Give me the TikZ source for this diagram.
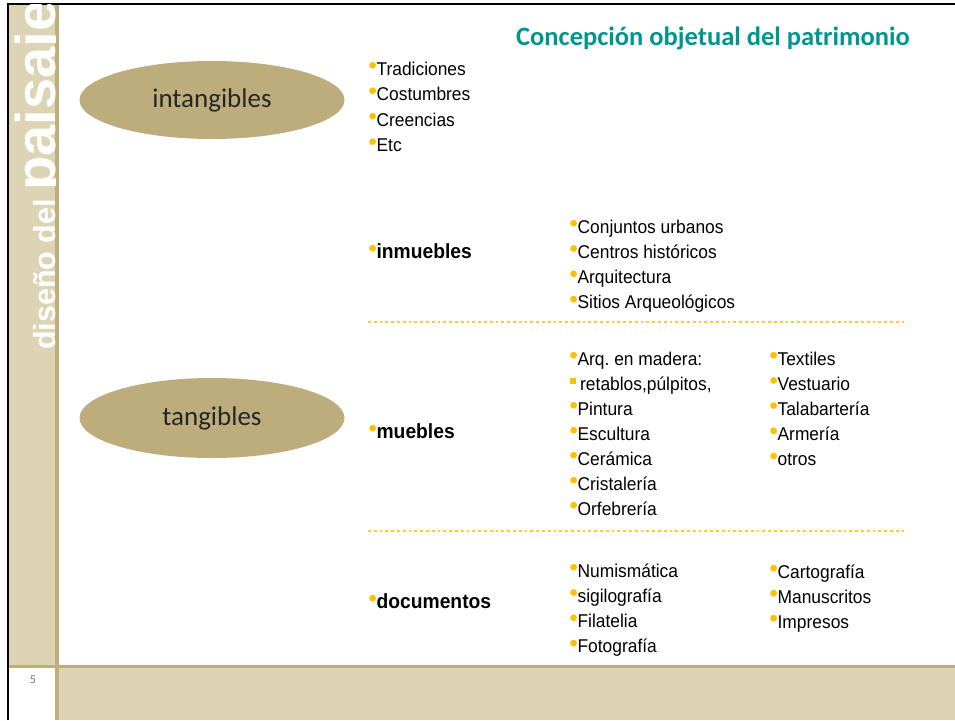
\documentclass[tikz,border=0pt]{standalone}
\usepackage{fontspec}
\setmainfont{Liberation Sans}
\newfontfamily\itemfont[FakeStretch=0.94]{Liberation Sans}
\newfontfamily\calfont{Carlito}
\usetikzlibrary{positioning, shapes.geometric}

\definecolor{sidebeige}{RGB}{221,212,181}
\definecolor{stripetan}{RGB}{192,174,122}
\definecolor{ovalfill}{RGB}{189,172,124}
\definecolor{bulyellow}{RGB}{255,192,0}
\definecolor{titleteal}{RGB}{0,150,143}

\newcommand{\bul}{\tikz[baseline=0pt]\fill[bulyellow] (3.4pt,9.8pt) circle[radius=3.4pt];\hspace{0.6pt}}
\newcommand{\sqbul}{{\color{bulyellow}\rule[6pt]{6pt}{6pt}}\hspace{4pt}}

\begin{document}
\frenchspacing
\begin{tikzpicture}[
        x=1pt, y=-1pt,
        oval/.style={ellipse, fill=ovalfill, minimum width=265pt, minimum height=78pt, inner sep=0pt, font=\calfont\fontsize{27}{27}\selectfont, text=black!85},
        item/.style={anchor=base west, inner sep=0pt, font=\itemfont\fontsize{18.5}{22}\selectfont},
        cat/.style={anchor=base west, inner sep=0pt, font=\itemfont\bfseries\fontsize{20.5}{24}\selectfont},
        sep/.style={draw=bulyellow!85, line width=2.8pt, dash pattern=on 2.8pt off 3pt},
    ]
    \useasboundingbox (0,0) rectangle (955,720);

    % Draw the slide frame
    \fill[sidebeige] (9,4) rectangle (55,665);
    \fill[sidebeige] (58,668) rectangle (955,720);
    \fill[stripetan] (55,4) rectangle (59,720);
    \fill[stripetan] (9,665) rectangle (955,668);
    \draw[line width=2pt] (8,720) -- (8,4) -- (955,4);

    % Sidebar text
    \begin{scope}
        \clip (9,4) rectangle (55,665);
        \node[rotate=90, anchor=base west, inner sep=0pt, text=white, font=\bfseries] (sidebar) at (55.5,350)
            {\fontsize{30.5}{30}\selectfont diseño del \fontsize{56}{56}\selectfont paisaje};
    \end{scope}
    \node[font=\calfont\fontsize{12}{12}\selectfont, text=black!55] (pagenum) at (33,680) {5};

    % Title
    \node[anchor=base west, inner sep=0pt, font=\calfont\bfseries\fontsize{26.5}{26.5}\selectfont, text=titleteal] (title) at (516,45)
        {Concepción objetual del patrimonio};

    % Draw the two ovals
    \node[oval] (intang) at (212,100) {intangibles};
    \node[oval, minimum height=80pt] (tang) at (212,418) {tangibles};

    % Intangible items
    \foreach \txt [count=\i from 0] in {Tradiciones, Costumbres, Creencias, Etc}
        \node[item] (int-\i) at (369,75+25.5*\i) {\bul\txt};

    % Tangible groups
    \node[cat] (inm) at (369,258) {\bul inmuebles};
    \node[cat] (mueb) at (369,438) {\bul muebles};
    \node[cat] (docs) at (369,608) {\bul documentos};

    \foreach \txt [count=\i from 0] in {Conjuntos urbanos, Centros históricos, Arquitectura, Sitios Arqueológicos}
        \node[item] (inm-\i) at (570,233+25.3*\i) {\bul\txt};

    \foreach \txt [count=\i from 0] in {\bul Arq. en madera:, {\sqbul retablos,púlpitos,}, \bul Pintura, \bul Escultura, \bul Cerámica, \bul Cristalería, \bul Orfebrería}
        \node[item] (muebA-\i) at (570,365+25*\i) {\txt};
    \foreach \txt [count=\i from 0] in {Textiles, Vestuario, Talabartería, Armería, otros}
        \node[item] (muebB-\i) at (770,365+25.2*\i) {\bul\txt};

    \foreach \txt [count=\i from 0] in {Numismática, sigilografía, Filatelia, Fotografía}
        \node[item] (docA-\i) at (570,577+25.3*\i) {\bul\txt};
    \foreach \txt [count=\i from 0] in {Cartografía, Manuscritos, Impresos}
        \node[item] (docB-\i) at (770,578+25*\i) {\bul\txt};

    % Dotted separators
    \coordinate (sepA-l) at (368,322);
    \coordinate (sepA-r) at (905,322);
    \coordinate (sepB-l) at (368,531);
    \coordinate (sepB-r) at (905,531);
    \draw[sep] (sepA-l) -- (sepA-r);
    \draw[sep] (sepB-l) -- (sepB-r);
\end{tikzpicture}
\end{document}
